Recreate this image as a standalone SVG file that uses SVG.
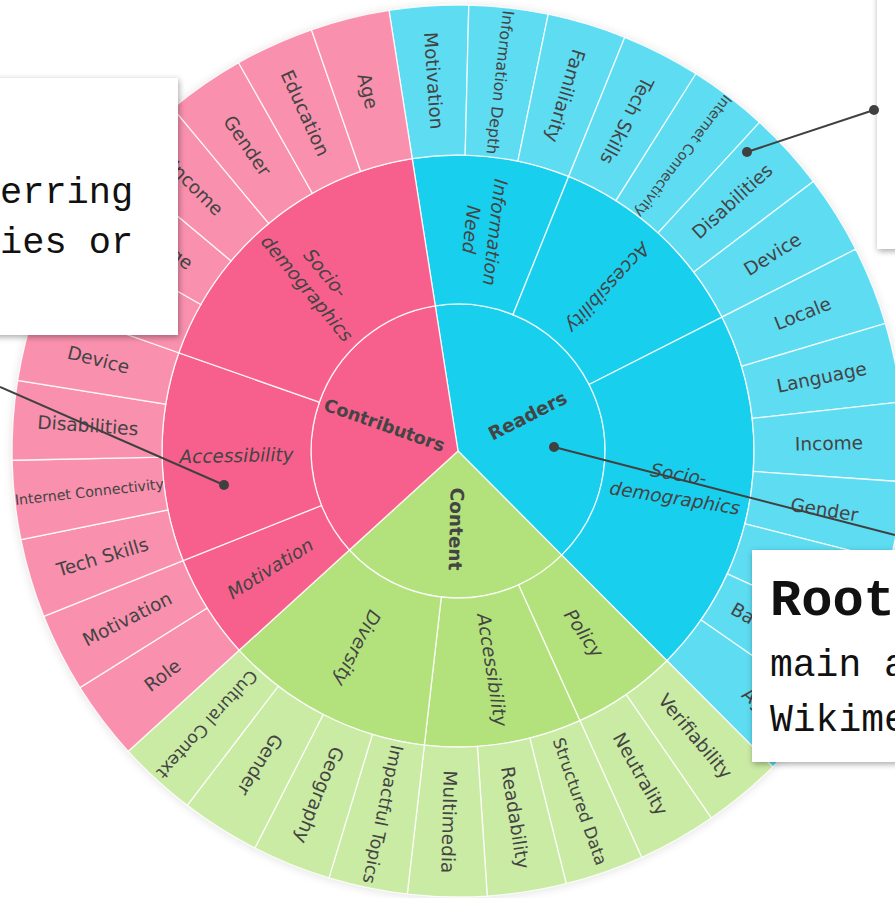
<svg xmlns="http://www.w3.org/2000/svg" width="895" height="898" viewBox="0 0 895 898">
<defs>
<style>
.t{font-family:"DejaVu Sans",Verdana,sans-serif;fill:#444;text-anchor:middle;font-size:18.5px}
.md{font-style:italic}
.ct{font-weight:bold}
.sec{stroke:#fff;stroke-width:1.3;stroke-opacity:.85}
.pk{fill:#f7608c}.cy{fill:#19cfee}.gr{fill:#b3e27c}
.pk.lv{fill:#f990ae}.cy.lv{fill:#5edcf2}.gr.lv{fill:#caeba3}
.box{fill:#fff;filter:url(#sh)}
.cn{stroke:#404040;stroke-width:2;fill:none}
.dot{fill:#404040}
.mono{font-family:"Liberation Mono","Courier New",monospace;fill:#111}
</style>
<path id="leaf" d="M0,-446A446,446 0 0 1 79.636,-438.832L52.853,-291.243A296,296 0 0 0 0,-296Z"/>
<path id="m2" d="M0,-296A296,296 0 0 1 104.007,-277.126L51.652,-137.627A147,147 0 0 0 0,-147Z"/>
<path id="m3" d="M0,-296A296,296 0 0 1 151.818,-254.101L75.396,-126.192A147,147 0 0 0 0,-147Z"/>
<path id="m4" d="M0,-296A296,296 0 0 1 194.751,-222.910L96.717,-110.702A147,147 0 0 0 0,-147Z"/>
<path id="m6" d="M0,-296A296,296 0 0 1 260.657,-140.264L129.448,-69.658A147,147 0 0 0 0,-147Z"/>
<path id="m7" d="M0,-296A296,296 0 0 1 281.513,-91.469L139.805,-45.425A147,147 0 0 0 0,-147Z"/>
<path id="c9" d="M0,0L0,-147A147,147 0 0 1 146.852,6.595Z"/>
<path id="c12" d="M0,0L0,-147A147,147 0 0 1 122.682,80.982Z"/>
<path id="c14" d="M0,0L0,-147A147,147 0 0 1 86.404,118.926Z"/>
<filter id="sh" x="-20%" y="-20%" width="140%" height="140%"><feDropShadow dx="1" dy="2" stdDeviation="3" flood-color="#000" flood-opacity=".35"/></filter>
<filter id="blur" x="-10%" y="-10%" width="120%" height="120%"><feGaussianBlur stdDeviation="5"/></filter>
</defs>
<rect width="895" height="898" fill="#fff"/>
<circle cx="458" cy="452" r="447" fill="#000" opacity=".1" filter="url(#blur)"/>
<g transform="translate(458,451)">
<!-- center -->
<g id="c-readers"><use href="#c14" class="sec cy" transform="rotate(-8.9)"/><text class="t ct" transform="rotate(63.1) translate(0,-78) rotate(-90)" dy="0.35em">Readers</text></g>
<g id="c-content"><use href="#c9" class="sec gr" transform="rotate(135.1)"/><text class="t ct" transform="rotate(181.386) translate(0,-78) rotate(-90)" dy="0.35em">Content</text></g>
<g id="c-contributors"><use href="#c12" class="sec pk" transform="rotate(227.6714)"/><text class="t ct" style="font-size:17.8px" transform="rotate(289.386) translate(0,-78) rotate(90)" dy="0.35em">Contributors</text></g>
<!-- middle -->
<g id="m-readers-infoneed"><use href="#m3" class="sec cy" transform="rotate(-8.9)"/><text class="t md" transform="rotate(6.529) translate(0,-221.5) rotate(90)"><tspan x="0" y="-0.3em">Information</tspan><tspan x="0" y="1em">Need</tspan></text></g>
<g id="m-readers-access"><use href="#m4" class="sec cy" transform="rotate(21.9571)"/><text class="t md" transform="rotate(42.529) translate(0,-221.5) rotate(90)" dy="0.35em">Accessibility</text></g>
<g id="m-readers-socio"><use href="#m7" class="sec cy" transform="rotate(63.1)"/><text class="t md" transform="rotate(99.1) translate(0,-221.5) rotate(-90)"><tspan x="0" y="-0.3em">Socio-</tspan><tspan x="0" y="1em">demographics</tspan></text></g>
<g id="m-content-policy"><use href="#m2" class="sec gr" transform="rotate(135.1)"/><text class="t md" transform="rotate(145.386) translate(0,-221.5) rotate(-90)" dy="0.35em">Policy</text></g>
<g id="m-content-access"><use href="#m3" class="sec gr" transform="rotate(155.6714)"/><text class="t md" transform="rotate(171.1) translate(0,-221.5) rotate(-90)" dy="0.35em">Accessibility</text></g>
<g id="m-content-diversity"><use href="#m4" class="sec gr" transform="rotate(186.5286)"/><text class="t md" transform="rotate(207.1) translate(0,-221.5) rotate(-90)" dy="0.35em">Diversity</text></g>
<g id="m-contrib-motivation"><use href="#m2" class="sec pk" transform="rotate(227.6714)"/><text class="t md" transform="rotate(237.957) translate(0,-221.5) rotate(90)" dy="0.35em">Motivation</text></g>
<g id="m-contrib-access"><use href="#m4" class="sec pk" transform="rotate(248.2429)"/><text class="t md" transform="rotate(268.814) translate(0,-221.5) rotate(90)" dy="0.35em">Accessibility</text></g>
<g id="m-contrib-socio"><use href="#m6" class="sec pk" transform="rotate(289.3857)"/><text class="t md" transform="rotate(320.243) translate(0,-221.5) rotate(90)"><tspan x="0" y="-0.3em">Socio-</tspan><tspan x="0" y="1em">demographics</tspan></text></g>
<!-- leaves: readers -->
<g id="l-r-motivation"><use href="#leaf" class="sec cy lv" transform="rotate(-8.9)"/><text class="t" transform="rotate(-3.757) translate(0,-371) rotate(90)" dy="0.35em">Motivation</text></g>
<g id="l-r-infodepth"><use href="#leaf" class="sec cy lv" transform="rotate(1.3857)"/><text class="t" style="font-size:15.8px" transform="rotate(6.529) translate(0,-371) rotate(90)" dy="0.35em">Information Depth</text></g>
<g id="l-r-familiarity"><use href="#leaf" class="sec cy lv" transform="rotate(11.6714)"/><text class="t" transform="rotate(16.814) translate(0,-371) rotate(90)" dy="0.35em">Familiarity</text></g>
<g id="l-r-techskills"><use href="#leaf" class="sec cy lv" transform="rotate(21.9571)"/><text class="t" transform="rotate(27.1) translate(0,-371) rotate(90)" dy="0.35em">Tech Skills</text></g>
<g id="l-r-internet"><use href="#leaf" class="sec cy lv" transform="rotate(32.2429)"/><text class="t" style="font-size:14.2px" transform="rotate(37.386) translate(0,-371) rotate(90)" dy="0.35em">Internet Connectivity</text></g>
<g id="l-r-disabilities"><use href="#leaf" class="sec cy lv" transform="rotate(42.5286)"/><text class="t" transform="rotate(47.671) translate(0,-371) rotate(-90)" dy="0.35em">Disabilities</text></g>
<g id="l-r-device"><use href="#leaf" class="sec cy lv" transform="rotate(52.8143)"/><text class="t" transform="rotate(57.957) translate(0,-371) rotate(-90)" dy="0.35em">Device</text></g>
<g id="l-r-locale"><use href="#leaf" class="sec cy lv" transform="rotate(63.1)"/><text class="t" transform="rotate(68.243) translate(0,-371) rotate(-90)" dy="0.35em">Locale</text></g>
<g id="l-r-language"><use href="#leaf" class="sec cy lv" transform="rotate(73.3857)"/><text class="t" transform="rotate(78.529) translate(0,-371) rotate(-90)" dy="0.35em">Language</text></g>
<g id="l-r-income"><use href="#leaf" class="sec cy lv" transform="rotate(83.6714)"/><text class="t" transform="rotate(88.814) translate(0,-371) rotate(-90)" dy="0.35em">Income</text></g>
<g id="l-r-gender"><use href="#leaf" class="sec cy lv" transform="rotate(93.9571)"/><text class="t" transform="rotate(99.1) translate(0,-371) rotate(-90)" dy="0.35em">Gender</text></g>
<g id="l-r-hidden"><use href="#leaf" class="sec cy lv" transform="rotate(104.2429)"/></g>
<g id="l-r-background"><use href="#leaf" class="sec cy lv" transform="rotate(114.5286)"/><text class="t" transform="rotate(119.671) translate(0,-371) rotate(-90)" dy="0.35em">Background</text></g>
<g id="l-r-age"><use href="#leaf" class="sec cy lv" transform="rotate(124.8143)"/><text class="t" transform="rotate(129.957) translate(0,-392) rotate(-90)" dy="0.35em">Age</text></g>
<!-- leaves: content -->
<g id="l-c-verifiability"><use href="#leaf" class="sec gr lv" transform="rotate(135.1)"/><text class="t" transform="rotate(140.243) translate(0,-371) rotate(-90)" dy="0.35em">Verifiability</text></g>
<g id="l-c-neutrality"><use href="#leaf" class="sec gr lv" transform="rotate(145.3857)"/><text class="t" transform="rotate(150.529) translate(0,-371) rotate(-90)" dy="0.35em">Neutrality</text></g>
<g id="l-c-structured"><use href="#leaf" class="sec gr lv" transform="rotate(155.6714)"/><text class="t" style="font-size:16.7px" transform="rotate(160.814) translate(0,-371) rotate(-90)" dy="0.35em">Structured Data</text></g>
<g id="l-c-readability"><use href="#leaf" class="sec gr lv" transform="rotate(165.9571)"/><text class="t" transform="rotate(171.1) translate(0,-371) rotate(-90)" dy="0.35em">Readability</text></g>
<g id="l-c-multimedia"><use href="#leaf" class="sec gr lv" transform="rotate(176.2429)"/><text class="t" transform="rotate(181.386) translate(0,-371) rotate(-90)" dy="0.35em">Multimedia</text></g>
<g id="l-c-impactful"><use href="#leaf" class="sec gr lv" transform="rotate(186.5286)"/><text class="t" style="font-size:17.5px" transform="rotate(191.671) translate(0,-371) rotate(-90)" dy="0.35em">Impactful Topics</text></g>
<g id="l-c-geography"><use href="#leaf" class="sec gr lv" transform="rotate(196.8143)"/><text class="t" transform="rotate(201.957) translate(0,-371) rotate(-90)" dy="0.35em">Geography</text></g>
<g id="l-c-gender"><use href="#leaf" class="sec gr lv" transform="rotate(207.1)"/><text class="t" transform="rotate(212.243) translate(0,-371) rotate(-90)" dy="0.35em">Gender</text></g>
<g id="l-c-cultural"><use href="#leaf" class="sec gr lv" transform="rotate(217.3857)"/><text class="t" style="font-size:17.1px" transform="rotate(222.529) translate(0,-371) rotate(-90)" dy="0.35em">Cultural Context</text></g>
<!-- leaves: contributors -->
<g id="l-k-role"><use href="#leaf" class="sec pk lv" transform="rotate(227.6714)"/><text class="t" transform="rotate(232.814) translate(0,-371) rotate(90)" dy="0.35em">Role</text></g>
<g id="l-k-motivation"><use href="#leaf" class="sec pk lv" transform="rotate(237.9571)"/><text class="t" transform="rotate(243.1) translate(0,-371) rotate(90)" dy="0.35em">Motivation</text></g>
<g id="l-k-techskills"><use href="#leaf" class="sec pk lv" transform="rotate(248.2429)"/><text class="t" transform="rotate(253.386) translate(0,-371) rotate(90)" dy="0.35em">Tech Skills</text></g>
<g id="l-k-internet"><use href="#leaf" class="sec pk lv" transform="rotate(258.5286)"/><text class="t" style="font-size:14.2px" transform="rotate(263.671) translate(0,-371) rotate(90)" dy="0.35em">Internet Connectivity</text></g>
<g id="l-k-disabilities"><use href="#leaf" class="sec pk lv" transform="rotate(268.8143)"/><text class="t" transform="rotate(273.957) translate(0,-371) rotate(90)" dy="0.35em">Disabilities</text></g>
<g id="l-k-device"><use href="#leaf" class="sec pk lv" transform="rotate(279.1)"/><text class="t" transform="rotate(284.243) translate(0,-371) rotate(90)" dy="0.35em">Device</text></g>
<g id="l-k-hidden"><use href="#leaf" class="sec pk lv" transform="rotate(289.3857)"/></g>
<g id="l-k-language"><use href="#leaf" class="sec pk lv" transform="rotate(299.6714)"/><text class="t" transform="rotate(304.814) translate(0,-371) rotate(90)" dy="0.35em">Language</text></g>
<g id="l-k-income"><use href="#leaf" class="sec pk lv" transform="rotate(309.9571)"/><text class="t" transform="rotate(315.1) translate(0,-371) rotate(90)" dy="0.35em">Income</text></g>
<g id="l-k-gender"><use href="#leaf" class="sec pk lv" transform="rotate(320.2429)"/><text class="t" transform="rotate(325.386) translate(0,-371) rotate(90)" dy="0.35em">Gender</text></g>
<g id="l-k-education"><use href="#leaf" class="sec pk lv" transform="rotate(330.5286)"/><text class="t" transform="rotate(335.671) translate(0,-371) rotate(90)" dy="0.35em">Education</text></g>
<g id="l-k-age"><use href="#leaf" class="sec pk lv" transform="rotate(340.8143)"/><text class="t" transform="rotate(345.957) translate(0,-371) rotate(90)" dy="0.35em">Age</text></g>
</g>
<!-- callout boxes -->
<g id="box-left"><rect class="box" x="-20" y="78" width="198" height="257"/><text class="mono" x="0" y="203" font-size="37">erring</text><text class="mono" x="0" y="253" font-size="37">ies or</text></g>
<g id="box-topright"><rect class="box" x="877" y="-20" width="40" height="269"/></g>
<g id="box-root"><rect class="box" x="752" y="550" width="170" height="212"/><text class="mono" x="770" y="615" font-size="52" font-weight="bold">Root</text><text class="mono" x="770" y="676" font-size="38">main a</text><text class="mono" x="770" y="731" font-size="38">Wikime</text></g>
<!-- connectors -->
<g id="connectors">
<line class="cn" x1="0" y1="387" x2="224" y2="485"/><circle class="dot" cx="224" cy="485" r="5"/>
<line class="cn" x1="874" y1="110" x2="747" y2="152"/><circle class="dot" cx="874" cy="110" r="5"/><circle class="dot" cx="747" cy="152" r="5"/>
<line class="cn" x1="554" y1="447" x2="895" y2="535"/><circle class="dot" cx="554" cy="447" r="5"/>
</g>
</svg>
